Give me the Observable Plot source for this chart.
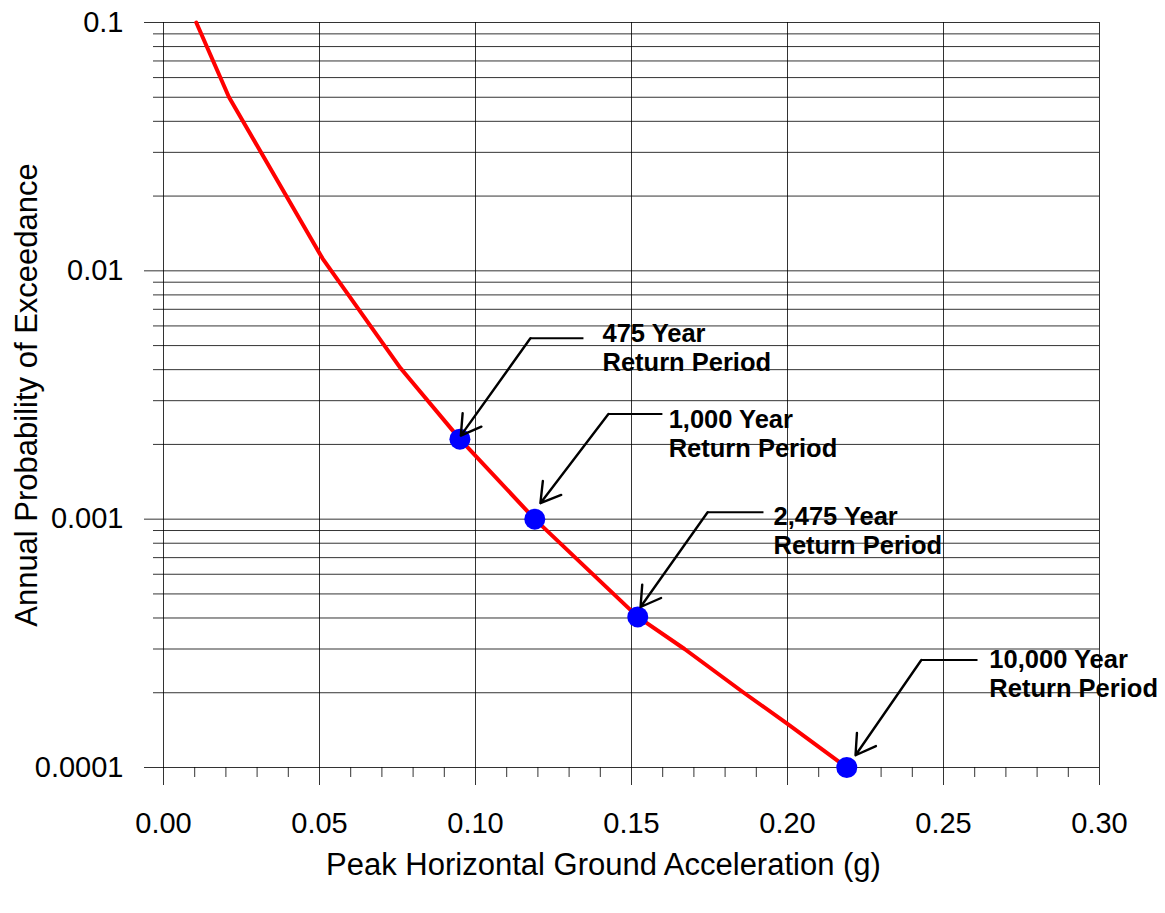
<!DOCTYPE html>
<html>
<head>
<meta charset="utf-8">
<script src="https://cdn.jsdelivr.net/npm/d3@7"></script>
<script src="https://cdn.jsdelivr.net/npm/@observablehq/plot@0.6"></script>
<style>
  html, body { margin: 0; padding: 0; background: #fff; }
  #chart { width: 1165px; height: 913px; }
</style>
</head>
<body>
<div id="chart"></div>
<script>
// ---- Data ----
const curvePGA  = [0.0105, 0.021, 0.051, 0.076, 0.095, 0.119, 0.152, 0.167, 0.186, 0.200, 0.219];
const curveProb = [0.1, 0.05, 0.0112, 0.00405, 0.0021, 0.001, 0.000404, 0.0003, 0.0002, 0.00015, 0.0001];

const returnLabels = ["475 Year\nReturn Period", "1,000 Year\nReturn Period", "2,475 Year\nReturn Period", "10,000 Year\nReturn Period"];
const returnPGA    = [0.095, 0.119, 0.152, 0.219];
const returnProb   = [0.0021, 0.001, 0.000404, 0.0001];

// callout geometry in data units
const labelX   = [0.1407, 0.1619, 0.1955, 0.2647];
const labelY   = [0.00492, 0.00222, 0.000904, 0.000240];
const elbowX   = [0.1176, 0.1426, 0.1744, 0.2429];
const elbowY   = [0.00535, 0.00265, 0.001066, 0.000271];
const leaderX  = [0.1346, 0.1599, 0.1923, 0.2609];
const tipX     = [0.0953, 0.1208, 0.1529, 0.2218];
const tipY     = [0.00217, 0.00116, 0.000443, 0.000112];

// ticks
const xMajor = [0, 0.05, 0.10, 0.15, 0.20, 0.25, 0.30];
const xMajorLabels = ["0.00", "0.05", "0.10", "0.15", "0.20", "0.25", "0.30"];
const xMinor = [0.01, 0.02, 0.03, 0.04, 0.06, 0.07, 0.08, 0.09, 0.11, 0.12, 0.13, 0.14,
                0.16, 0.17, 0.18, 0.19, 0.21, 0.22, 0.23, 0.24, 0.26, 0.27, 0.28, 0.29];
const yMajor = [0.0001, 0.001, 0.01, 0.1];
const yMajorLabels = ["0.0001", "0.001", "0.01", "0.1"];
const yMinor = [0.0002, 0.0003, 0.0004, 0.0005, 0.0006, 0.0007, 0.0008, 0.0009,
                0.002, 0.003, 0.004, 0.005, 0.006, 0.007, 0.008, 0.009,
                0.02, 0.03, 0.04, 0.05, 0.06, 0.07, 0.08, 0.09];

const xTitle = "Peak Horizontal Ground Acceleration (g)";
const yTitle = "Annual Probability of Exceedance";

// ---- Tables ----
const curve = curvePGA.map((x, i) => ({x, y: curveProb[i]}));
const points = returnPGA.map((x, i) => ({x, y: returnProb[i]}));
const notes = returnLabels.map((label, i) => ({
  label, lx: labelX[i], ly: labelY[i], ex: elbowX[i], ey: elbowY[i],
  hx: leaderX[i], tx: tipX[i], ty: tipY[i]
}));

const font = "'Liberation Sans', Arial, Helvetica, sans-serif";

const chart = Plot.plot({
  width: 1165,
  height: 913,
  marginLeft: 163,
  marginRight: 66,
  marginTop: 22,
  marginBottom: 146,
  style: {fontFamily: font, color: "black", background: "white", overflow: "visible"},
  x: {type: "linear", domain: [0, 0.3]},
  y: {type: "log", domain: [0.0001, 0.1]},
  marks: [
    Plot.gridY([...yMajor, ...yMinor], {stroke: "black", strokeOpacity: 0.8, strokeWidth: 1}),
    Plot.gridX(xMajor, {stroke: "black", strokeOpacity: 0.8, strokeWidth: 1}),
    Plot.axisX(xMinor, {tickSize: 10, tickFormat: () => "", label: null, stroke: "black", strokeOpacity: 0.8}),
    Plot.axisX(xMajor, {tickSize: 18, tickPadding: 27, fontSize: 29, label: null, stroke: "black", strokeOpacity: 0.8,
      tickFormat: d => xMajorLabels[xMajor.indexOf(d)]}),
    Plot.axisY(yMinor, {tickSize: 10, tickFormat: () => "", label: null, stroke: "black", strokeOpacity: 0.8}),
    Plot.axisY(yMajor, {tickSize: 19, tickPadding: 21, fontSize: 29, label: null, stroke: "black", strokeOpacity: 0.8,
      tickFormat: d => yMajorLabels[yMajor.indexOf(d)]}),
    Plot.line(curve, {x: "x", y: "y", stroke: "#ff0000", strokeWidth: 4, strokeLinejoin: "round"}),
    Plot.link(notes, {x1: "ex", y1: "ey", x2: "hx", y2: "ey", stroke: "black", strokeWidth: 2}),
    Plot.dot(points, {x: "x", y: "y", r: 10.5, fill: "#0000ff", stroke: "none"}),
    Plot.arrow(notes, {x1: "ex", y1: "ey", x2: "tx", y2: "ty", stroke: "black", strokeWidth: 2.4,
      headLength: 14, headAngle: 62}),
    Plot.text(notes, {x: "lx", y: "ly", text: "label", textAnchor: "start", lineAnchor: "middle",
      fontSize: 25.5, fontWeight: "bold", lineHeight: 1.15, fill: "black"}),
    Plot.text([xTitle], {text: d => d, frameAnchor: "bottom", dx: -28, dy: 98, fontSize: 31,
      lineAnchor: "middle", textAnchor: "middle", fill: "black"}),
    Plot.text([yTitle], {text: d => d, frameAnchor: "left", rotate: -90, dx: -136, fontSize: 31,
      lineAnchor: "middle", textAnchor: "middle", fill: "black"})
  ]
});

document.getElementById("chart").appendChild(chart);
</script>
</body>
</html>
